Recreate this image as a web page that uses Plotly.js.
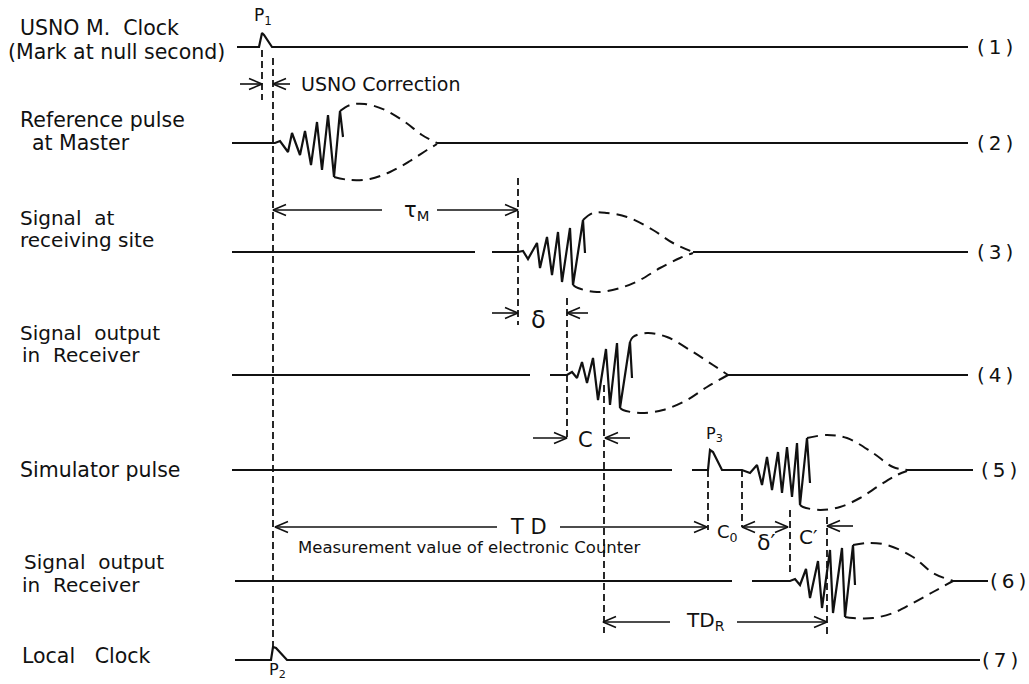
<!DOCTYPE html>
<html>
<head>
<meta charset="utf-8">
<script src="https://cdn.plot.ly/plotly-3.0.1.min.js"></script>
<style>
html,body{margin:0;padding:0;background:#fff;}
#chart{width:1029px;height:684px;}
</style>
</head>
<body>
<div id="chart"></div>
<script>
// ---------------- data ----------------
// channel rows (1)..(7)
const rowTags      = ["(\u20091\u2009)", "(\u20092\u2009)", "(\u20093\u2009)", "(\u20094\u2009)",
                      "(\u20095\u2009)", "(\u20096\u2009)", "(\u20097\u2009)"];
const rowBaseY     = [47, 143, 252, 375, 470, 581, 660];
const rowLineX0    = [237, 232, 232, 232, 232, 235, 235];
const rowLineX1    = [968, 968, 968, 968, 973, 988, 980];
const rowGapX      = [null, null, [475, 492], [530, 550], [672, 692], [732, 752], null];
const rowTagX      = [975, 975, 975, 975, 979, 988, 980];

// left-side captions
const captionText  = ["USNO M.  Clock", "(Mark at null second)", "Reference pulse", "at Master",
                      "Signal  at", "receiving site", "Signal  output", "in  Receiver",
                      "Simulator pulse", "Signal  output", "in  Receiver", "Local   Clock"];
const captionX     = [18, 6, 18, 30, 18, 18, 18, 20, 18, 22, 20, 20];
const captionY     = [28, 52, 120, 143, 218, 240, 333, 355, 470, 562, 585, 656];
const captionSize  = [20.5, 20.5, 20.5, 20.5, 20, 20, 20, 20, 20.5, 20, 20, 20.5];

// clock / simulator pulses (P1, P3, P2)
const pulseRow     = [0, 4, 6];
const pulseX0      = [259, 708, 271];
const pulseDX      = [[0, 3, 5, 13], [0, 2, 5, 14], [0, 2, 5, 16]];
const pulseDY      = [[0, -14, -12, 0], [0, -20, -18, 0], [0, -13, -12, 0]];

// Loran-type pulse wave trains on rows (2)..(6)
const waveRow      = [1, 2, 3, 4, 5];
const waveX0       = [275, 518, 567, 742, 790];
const waveDX = [
  [0, 5, 13, 17, 25, 30, 36, 42, 47, 53, 59, 65, 68],
  [0, 5, 10, 19, 22, 29, 34, 40, 44, 52, 55, 65, 67],
  [0, 5, 10, 15, 20, 26, 31, 39, 43, 50, 53, 63, 65],
  [0, 8, 15, 20, 25, 30, 36, 40, 45, 50, 55, 58, 65, 68],
  [0, 5, 10, 16, 20, 28, 32, 40, 43, 52, 55, 63, 65]
];
const waveDY = [
  [0, -2, 9, -10, 12, -12, 22, -21, 27, -28, 34, -32, -6],
  [0, -1, 7, -9, 16, -15, 23, -20, 30, -24, 33, -32, 1],
  [0, -3, 3, -13, 8, -17, 25, -26, 30, -32, 33, -33, 3],
  [0, 3, -5, 15, -13, 20, -18, 23, -23, 27, -27, 35, -32, 13],
  [0, -2, 4, -12, 17, -20, 27, -31, 32, -33, 36, -36, 4]
];
// dashed envelopes (upper / lower)
const upperDX = [
  [65, 75, 90, 110, 130, 147, 162],
  [65, 75, 89, 109, 135, 155, 175],
  [63, 66, 80, 100, 126, 146, 161],
  [65, 85, 105, 131, 151, 165],
  [63, 77, 97, 123, 143, 163]
];
const upperDY = [
  [-32, -38, -39, -33, -21, -8, 0],
  [-32, -39, -39, -35, -22, -9, 0],
  [-33, -38, -42, -38, -23, -10, 0],
  [-32, -35, -32, -17, -3, 0],
  [-36, -38, -36, -24, -8, 0]
];
const lowerDX = [
  [59, 75, 95, 115, 135, 152, 162],
  [55, 60, 79, 102, 122, 142, 162, 175],
  [53, 56, 73, 96, 120, 140, 161],
  [58, 61, 78, 98, 118, 138, 155, 165],
  [55, 63, 83, 103, 123, 143, 163]
];
const lowerDY = [
  [34, 37, 36, 29, 18, 7, 1],
  [33, 36, 40, 36, 28, 16, 6, 1],
  [33, 35, 38, 35, 25, 12, 0],
  [35, 37, 40, 37, 28, 15, 5, 1],
  [36, 37, 37, 32, 22, 11, 0]
];

// dashed timing markers: x, top, bottom
const markerX   = [262, 273, 518, 567, 604, 708, 742, 790, 827];
const markerY0  = [50, 58, 178, 298, 385, 470, 470, 510, 517];
const markerY1  = [100, 650, 325, 440, 633, 530, 527, 575, 637];

// dimension arrows: from x, to x, y, head at from, head at to
const arrowFromX = [240, 290, 273, 437, 492, 588, 533, 630, 275, 560, 742, 853, 603, 737];
const arrowToX   = [262, 273, 382, 518, 518, 567, 567, 605, 497, 707, 788, 827, 670, 827];
const arrowY     = [84, 84, 210, 210, 313, 313, 438, 438, 527, 527, 527, 526, 622, 622];
const arrowHeadA = [0, 0, 1, 0, 0, 0, 0, 0, 1, 0, 1, 0, 1, 0];
const arrowHeadB = [1, 1, 0, 1, 1, 1, 1, 1, 0, 1, 1, 1, 0, 1];

// symbols on the diagram
const symText = ["P<sub>1</sub>", "USNO Correction", "τ<sub>M</sub>", "δ", "C", "T D",
                 "Measurement value of electronic Counter", "P<sub>3</sub>", "C<sub>0</sub>",
                 "δ′", "C′", "TD<sub>R</sub>", "P<sub>2</sub>"];
const symX    = [263, 299, 416, 538, 585, 528, 296, 714, 727, 766, 808, 705, 277];
const symY    = [16, 84, 211, 320, 440, 527, 547, 434, 533, 542, 537, 621, 670];
const symSize = [17, 19, 21, 24, 21, 21, 16.5, 16, 18, 22, 20, 20, 16];
const symAnchor = ["center", "left", "center", "center", "center", "center", "left",
                   "center", "center", "center", "center", "center", "center"];

// ---------------- build figure ----------------
const INK = "#111";
const FONT = "DejaVu Sans, Liberation Sans, sans-serif";
const traces = [];

function lineTrace(xs, ys, width, dash, shape) {
  return {x: xs, y: ys, type: "scatter", mode: "lines", hoverinfo: "skip",
          showlegend: false, connectgaps: false,
          line: {color: INK, width: width, dash: dash || "solid",
                 shape: shape || "linear", smoothing: 1}};
}

for (let i = 0; i < rowBaseY.length; i++) {
  const b = rowBaseY[i];
  const xs = [], ys = [];
  const add = (x, dy) => { xs.push(x); ys.push(b + dy); };
  const brk = () => { xs.push(null); ys.push(null); };
  add(rowLineX0[i], 0);
  if (rowGapX[i]) { add(rowGapX[i][0], 0); brk(); add(rowGapX[i][1], 0); }
  const pi = pulseRow.indexOf(i);
  if (pi >= 0) pulseDX[pi].forEach((d, k) => add(pulseX0[pi] + d, pulseDY[pi][k]));
  const wi = waveRow.indexOf(i);
  if (wi >= 0) {
    waveDX[wi].forEach((d, k) => add(waveX0[wi] + d, waveDY[wi][k]));
    brk();
    const up = upperDX[wi];
    add(waveX0[wi] + up[up.length - 1], 0);
  }
  add(rowLineX1[i], 0);
  traces.push(lineTrace(xs, ys, 2.2));
}

// envelopes
waveRow.forEach((r, wi) => {
  const b = rowBaseY[r];
  traces.push(lineTrace(upperDX[wi].map(d => waveX0[wi] + d), upperDY[wi].map(d => b + d), 2, "11px,7px", "spline"));
  traces.push(lineTrace(lowerDX[wi].map(d => waveX0[wi] + d), lowerDY[wi].map(d => b + d), 2, "11px,7px", "spline"));
});

// dashed markers
markerX.forEach((x, k) => {
  traces.push(lineTrace([x, x], [markerY0[k], markerY1[k]], 1.8, "7px,4px"));
});

// arrows with open chevron heads
const HL = 13, HW = 5.5;
arrowFromX.forEach((xa, k) => {
  const xb = arrowToX[k], y = arrowY[k];
  const xs = [xa, xb], ys = [y, y];
  const dir = xb > xa ? 1 : -1;
  if (arrowHeadB[k]) { xs.push(null, xb - dir * HL, xb, xb - dir * HL); ys.push(null, y - HW, y, y + HW); }
  if (arrowHeadA[k]) { xs.push(null, xa + dir * HL, xa, xa + dir * HL); ys.push(null, y - HW, y, y + HW); }
  traces.push(lineTrace(xs, ys, 1.6));
});

const annotations = [];
captionText.forEach((t, k) => annotations.push({
  text: t, x: captionX[k], y: captionY[k], xref: "x", yref: "y",
  xanchor: "left", yanchor: "middle", showarrow: false,
  font: {family: FONT, size: captionSize[k], color: INK}
}));
rowTags.forEach((t, k) => annotations.push({
  text: t, x: rowTagX[k], y: rowBaseY[k], xref: "x", yref: "y",
  xanchor: "left", yanchor: "middle", showarrow: false,
  font: {family: FONT, size: 20, color: INK}
}));
symText.forEach((t, k) => annotations.push({
  text: t, x: symX[k], y: symY[k], xref: "x", yref: "y",
  xanchor: symAnchor[k], yanchor: "middle", showarrow: false,
  font: {family: FONT, size: symSize[k], color: INK}
}));

const layout = {
  width: 1029, height: 684,
  margin: {l: 0, r: 0, t: 0, b: 0, pad: 0},
  paper_bgcolor: "#fff", plot_bgcolor: "#fff",
  xaxis: {range: [0, 1029], visible: false, fixedrange: true},
  yaxis: {range: [684, 0], visible: false, fixedrange: true},
  showlegend: false,
  annotations: annotations
};

Plotly.newPlot("chart", traces, layout, {staticPlot: true, displayModeBar: false});
</script>
</body>
</html>
